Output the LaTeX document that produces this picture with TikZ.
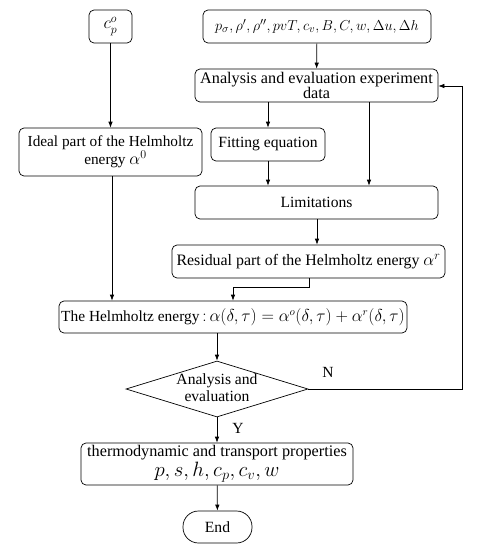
\documentclass[tikz,border=0pt]{standalone}
\usepackage{fontspec}
\setmainfont{Liberation Serif}
\usetikzlibrary{shapes.geometric,arrows.meta}
\begin{document}
\begin{tikzpicture}[x=1pt,y=-1pt,
  box/.style={draw,rounded corners=5pt,inner sep=0pt,align=center,line width=0.7pt,
    font=\fontsize{15.6}{16}\selectfont},
  arr/.style={-{Latex[length=6pt,width=4.5pt]},line width=0.7pt},
  lbl/.style={font=\fontsize{15.5}{16}\selectfont,inner sep=0pt}]
\useasboundingbox (0,0) rectangle (479,550);
\node[box,minimum width=43pt,minimum height=33pt] (cp) at (110.5,26.5) {\fontsize{17}{18}\selectfont$c_p^o$};
\node[box,minimum width=228pt,minimum height=33pt] (data) at (317,26.5)
  {\fontsize{15.3}{18}\selectfont$p_\sigma,\rho',\rho'',pvT,c_v,B,C,w,\Delta u,\Delta h$};
\node[box,minimum width=243pt,minimum height=33pt,font=\fontsize{16.2}{16}\selectfont] (ana) at (316.5,85.5)
  {Analysis and evaluation experiment\\[-0.5pt]data};
\node[box,minimum width=183pt,minimum height=48pt,font=\fontsize{15.3}{18}\selectfont] (ideal) at (110.5,152)
  {Ideal part of the Helmholtz\\\hspace*{10pt}energy {\fontsize{17}{18}\selectfont$\alpha^0$}};
\node[box,minimum width=114pt,minimum height=33pt] (fit) at (268,144.5) {Fitting equation};
\node[box,minimum width=243pt,minimum height=33pt] (lim) at (316.5,202.5) {Limitations};
\node[box,minimum width=273pt,minimum height=33pt,font=\fontsize{15.9}{16}\selectfont] (res) at (308.5,261.5)
  {Residual part of the Helmholtz energy {\fontsize{17}{18}\selectfont$\alpha^r$}};
\node[box,minimum width=348pt,minimum height=32pt,font=\fontsize{15.4}{16}\selectfont] (helm) at (233,317)
  {The Helmholtz energy{\fontsize{16}{18}\selectfont$\,{:}\,\alpha(\delta,\tau)=\alpha^o(\delta,\tau)+\alpha^r(\delta,\tau)$}};
\node[draw,diamond,line width=0.7pt,minimum width=182pt,minimum height=56pt,inner sep=0pt] (dia) at (217,389) {};
\node[lbl,align=center,font=\fontsize{15.6}{16.7}\selectfont] (diat) at (217,388) {Analysis and\\evaluation};
\node[box,minimum width=272pt,minimum height=42pt,font=\fontsize{16.2}{20}\selectfont] (thermo) at (217,464)
  {thermodynamic and transport properties\\\fontsize{20.5}{20}\selectfont$p,s,h,c_p,c_v,w$};
\node[draw,line width=0.7pt,rounded corners=15.5pt,minimum width=69pt,minimum height=32pt,inner sep=0pt,
  font=\fontsize{15.6}{16}\selectfont] (end) at (217.5,527) {End};
\node[lbl] (N) at (328,372) {N};
\node[lbl] (Y) at (238,428) {Y};
\coordinate (rc) at (462,389);
\coordinate (rt) at (462,86);
\coordinate (bend) at (309,287);
\draw[arr] (cp) -- (ideal);
\draw[arr] (data) -- (ana);
\draw[arr] (ana.south -| fit) -- (fit);
\draw[arr] (fit) -- (lim.north -| fit);
\draw[arr] (ana.south -| 369,0) -- (lim.north -| 369,0);
\draw[arr] (lim.south -| 317,0) -- (res.north -| 317,0);
\draw[arr] (res.south -| bend) -- (bend) -- (bend -| helm) -- (helm);
\draw[arr] (ideal.south -| 112,0) -- (helm.north -| 112,0);
\draw[arr] (helm.south -| dia) -- (dia);
\draw[arr] (dia.east) -- (rc) -- (rt) -- (ana.east |- rt);
\draw[arr] (dia) -- (thermo);
\draw[arr] (thermo) -- (end);
\end{tikzpicture}
\end{document}
